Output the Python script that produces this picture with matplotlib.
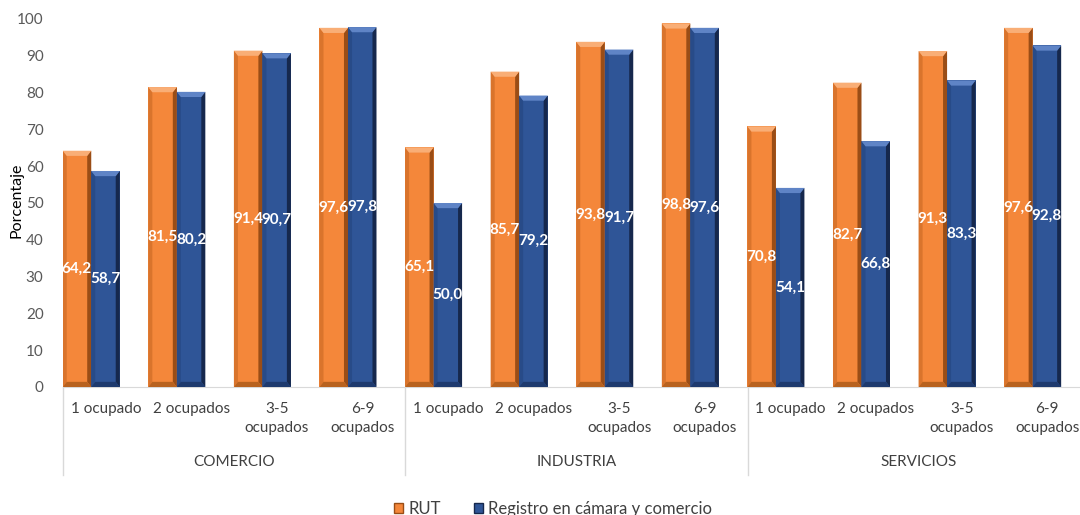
import numpy as np
import matplotlib
matplotlib.use("Agg")
from matplotlib import pyplot as plt
from matplotlib.patches import Polygon, Patch
from matplotlib.transforms import blended_transform_factory

plt.rcParams['font.family'] = ['Lato', 'DejaVu Sans']

sectors = ["COMERCIO", "INDUSTRIA", "SERVICIOS"]
sizes = ["1 ocupado", "2 ocupados", "3-5\nocupados", "6-9\nocupados"]
series_names = ["RUT", "Registro en cámara y comercio"]
rut = [64.2, 81.5, 91.4, 97.6, 65.1, 85.7, 93.8, 98.8, 70.8, 82.7, 91.3, 97.6]
registro = [58.7, 80.2, 90.7, 97.8, 50.0, 79.2, 91.7, 97.6, 54.1, 66.8, 83.3, 92.8]

ORANGE = dict(face='#F4873A', top='#F9AE76', left='#D9742C', right='#9A4D16', bottom='#B8621F')
BLUE = dict(face='#2F5597', top='#5F84C6', left='#284B88', right='#16284D', bottom='#1E3A6E')

BAR_W = 0.333
SHIFT = -0.17
DX = 0.047
DY = 1.4


def bevel_bar(ax, xc, h, pal):
    x0, x1 = xc - BAR_W / 2, xc + BAR_W / 2
    ax.add_patch(Polygon([(x0, 0), (x1, 0), (x1, h), (x0, h)], closed=True,
                         facecolor=pal['face'], edgecolor='none', zorder=2))
    ax.add_patch(Polygon([(x0, 0), (x0 + DX, DY), (x0 + DX, h - DY), (x0, h)],
                         facecolor=pal['left'], edgecolor='none', zorder=3))
    ax.add_patch(Polygon([(x1, 0), (x1 - DX, DY), (x1 - DX, h - DY), (x1, h)],
                         facecolor=pal['right'], edgecolor='none', zorder=3))
    ax.add_patch(Polygon([(x0, h), (x1, h), (x1 - DX, h - DY), (x0 + DX, h - DY)],
                         facecolor=pal['top'], edgecolor='none', zorder=3))
    ax.add_patch(Polygon([(x0, 0), (x1, 0), (x1 - DX, DY), (x0 + DX, DY)],
                         facecolor=pal['bottom'], edgecolor='none', zorder=3))


def fmt(v):
    return ("%.1f" % v).replace('.', ',')


fig = plt.figure(figsize=(10.8, 5.15), dpi=100)
ax = fig.add_axes([63 / 1080, 128 / 515, 1027 / 1080, 368 / 515])

n = len(rut)
x = np.arange(n)
for i in range(n):
    xo = x[i] + SHIFT - BAR_W / 2
    xb = x[i] + SHIFT + BAR_W / 2
    bevel_bar(ax, xo, rut[i], ORANGE)
    bevel_bar(ax, xb, registro[i], BLUE)
    ax.text(xo, rut[i] / 2, fmt(rut[i]), color='white', fontweight='bold',
            fontsize=11, ha='center', va='center', zorder=5)
    ax.text(xb, registro[i] / 2, fmt(registro[i]), color='white', fontweight='bold',
            fontsize=11, ha='center', va='center', zorder=5)

ax.set_xlim(-0.5, n - 0.5)
ax.set_ylim(0, 100)
ax.set_yticks(np.arange(0, 101, 10))
ax.tick_params(axis='y', length=0, pad=14, labelsize=11, labelcolor='#595959')
ax.set_xticks(x)
ax.set_xticklabels(sizes * len(sectors), fontsize=11, color='#404040', linespacing=1.45)
ax.tick_params(axis='x', length=0, pad=11)
for s in ['top', 'right', 'left']:
    ax.spines[s].set_visible(False)
ax.spines['bottom'].set_color('#D9D9D9')
fig.text(17 / 1080, (515 - 200) / 515, "Porcentaje", rotation=90, fontsize=11.5,
         color='black', ha='center', va='center')

trans = blended_transform_factory(ax.transData, ax.transAxes)
for g in range(len(sectors) + 1):
    xs = g * len(sizes) - 0.5
    ax.plot([xs, xs], [0, -0.24], color='#D9D9D9', lw=1, transform=trans, clip_on=False)
for g, name in enumerate(sectors):
    xc = g * len(sizes) + (len(sizes) - 1) / 2
    ax.text(xc, -0.204, name, transform=trans, ha='center', va='center',
            fontsize=11, color='#404040')

handles = [Patch(facecolor=ORANGE['face'], edgecolor=ORANGE['right'], label=series_names[0]),
           Patch(facecolor=BLUE['face'], edgecolor=BLUE['right'], label=series_names[1])]
fig.legend(handles=handles, loc='center', bbox_to_anchor=(553 / 1080, 6 / 515), ncol=2,
           frameon=False, fontsize=12, handlelength=0.55, handleheight=0.55,
           handletextpad=0.3, columnspacing=2.0, labelcolor='#404040')

fig.savefig("out.png", dpi=100)
